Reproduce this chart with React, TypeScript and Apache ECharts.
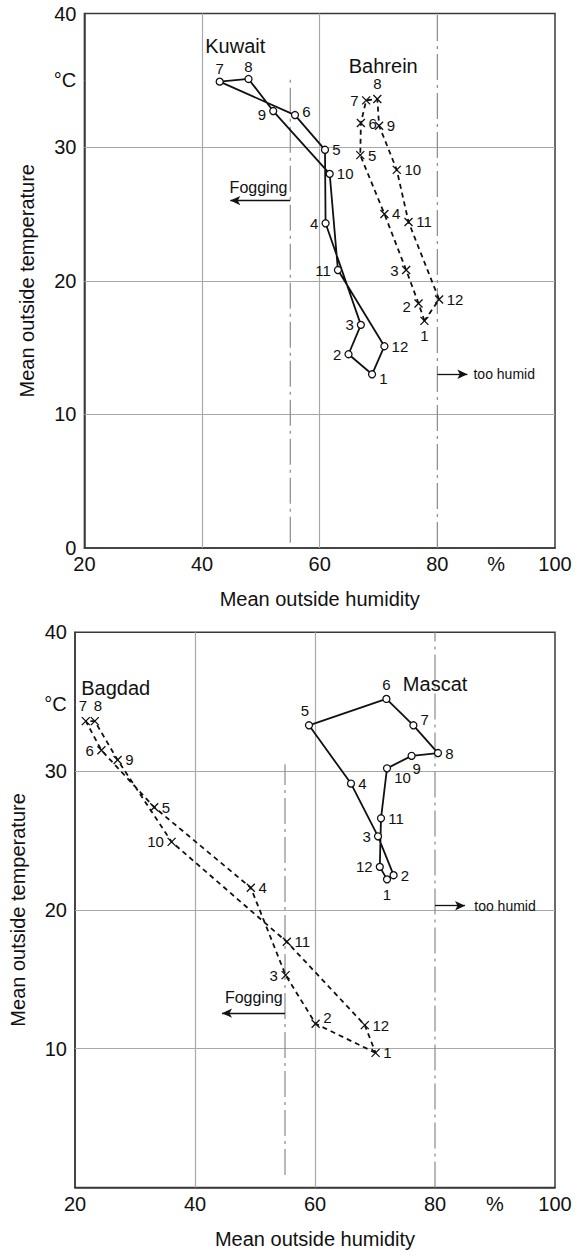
import React, { useEffect, useRef } from "react";
import * as echarts from "echarts";

// ---------- data ----------
const MONTHS = ["1", "2", "3", "4", "5", "6", "7", "8", "9", "10", "11", "12"];
const X_TICK_LABELS = [20, 40, 60, 80, 100];
const Y_TICK_LABELS_TOP = [0, 10, 20, 30, 40];
const Y_TICK_LABELS_BOTTOM = [10, 20, 30, 40];

const kuwaitHum = [68.9, 64.9, 67.0, 61.0, 60.9, 55.8, 43.0, 47.9, 52.1, 61.7, 63.1, 71.0];
const kuwaitTemp = [13.0, 14.5, 16.7, 24.3, 29.8, 32.4, 34.9, 35.1, 32.7, 28.0, 20.8, 15.1];
const bahreinHum = [77.8, 76.8, 74.7, 71.0, 66.9, 67.0, 67.9, 69.8, 70.1, 73.1, 75.1, 80.3];
const bahreinTemp = [17.0, 18.3, 20.8, 25.0, 29.4, 31.8, 33.5, 33.6, 31.6, 28.3, 24.4, 18.6];
const bagdadHum = [70.1, 60.1, 55.1, 49.3, 33.2, 24.4, 21.8, 23.3, 27.1, 36.1, 55.3, 68.3];
const bagdadTemp = [9.7, 11.8, 15.3, 21.6, 27.4, 31.5, 33.6, 33.6, 30.8, 24.9, 17.7, 11.7];
const mascatHum = [72.0, 73.1, 70.5, 66.0, 59.0, 71.9, 76.4, 80.5, 76.1, 72.0, 71.0, 70.8];
const mascatTemp = [22.2, 22.5, 25.3, 29.1, 33.3, 35.2, 33.3, 31.3, 31.1, 30.2, 26.6, 23.1];

const FOGGING_LIMIT = 55;
const HUMID_LIMIT = 80;

// ---------- label placement (style) ----------
const kuwaitPos = ["right", "left", "left", "left", "right", "right", "top", "top", "left", "right", "left", "right"];
const bahreinPos = ["bottom", "left", "left", "right", "right", "right", "left", "top", "right", "right", "right", "right"];
const bagdadPos = ["right", "right", "left", "right", "right", "left", "top", "top", "right", "left", "right", "right"];
const mascatPos = ["bottom", "right", "left", "right", "top", "top", "right", "right", "bottom", "right", "right", "left"];
const kuwaitOff: Record<number, number[]> = { 0: [0, 4], 8: [0, 3], 5: [0, -4], 6: [0, 2], 7: [0, 2] };
const bahreinOff: Record<number, number[]> = { 1: [0, 3] };
const bagdadOff: Record<number, number[]> = { 6: [-3, 0], 7: [3, 0], 1: [0, -6] };
const mascatOff: Record<number, number[]> = { 4: [-4, 0], 6: [0, -6], 8: [5, -2], 9: [0, 9] };

const FONT = "'Liberation Sans', Arial, Helvetica, sans-serif";
const INK = "#111111";
const GRID_GRAY = "#a8a8a8";
const FRAME = "#3a3a3a";

function citySeries(
  g: number,
  hum: number[],
  temp: number[],
  pos: string[],
  off: Record<number, number[]>,
  marker: "circle" | "cross",
  dashed: boolean
) {
  const data: any[] = hum.map((h, i) => ({
    value: [h, temp[i]],
    label: {
      show: true,
      formatter: MONTHS[i],
      position: pos[i],
      offset: off[i] || [0, 0],
      distance: 3,
    },
  }));
  data.push({ value: [hum[0], temp[0]], symbol: "none", label: { show: false } });
  const isCircle = marker === "circle";
  return {
    type: "line",
    xAxisIndex: g,
    yAxisIndex: g,
    data,
    showAllSymbol: true,
    symbol: isCircle ? "circle" : "path://M0,0L10,10M10,0L0,10",
    symbolSize: isCircle ? 7 : 8,
    itemStyle: isCircle
      ? { color: "#fff", borderColor: INK, borderWidth: 1.3 }
      : { color: "rgba(0,0,0,0)", borderColor: INK, borderWidth: 1.3 },
    lineStyle: { color: INK, width: 1.8, type: dashed ? [5, 4] : "solid" },
    label: { color: INK, fontSize: 15, fontFamily: FONT },
    z: 5,
    silent: true,
  };
}

function guideSeries(g: number, yTop: number, yBottom: number) {
  const dashDot = [26, 5, 3, 5];
  return [
    {
      type: "line",
      xAxisIndex: g,
      yAxisIndex: g,
      data: [
        [FOGGING_LIMIT, yBottom],
        [FOGGING_LIMIT, yTop],
      ],
      symbol: "none",
      lineStyle: { color: "#8a8a8a", width: 1.2, type: dashDot },
      z: 2,
      silent: true,
      markLine: {
        silent: true,
        symbol: "none",
        label: { show: false },
        lineStyle: { color: GRID_GRAY, width: 1.2, type: "solid" },
        data: [{ xAxis: 40 }, { xAxis: 60 }, { yAxis: 10 }, { yAxis: 20 }, { yAxis: 30 }],
        z: 1,
      },
    },
    {
      type: "line",
      xAxisIndex: g,
      yAxisIndex: g,
      data: [
        [HUMID_LIMIT, 0],
        [HUMID_LIMIT, 40],
      ],
      symbol: "none",
      lineStyle: { color: "#8a8a8a", width: 1.2, type: dashDot },
      z: 2,
      silent: true,
    },
  ];
}

function arrowSeries(g: number, fog: number[], humid: number[]) {
  return {
    type: "line",
    xAxisIndex: g,
    yAxisIndex: g,
    data: [],
    silent: true,
    markLine: {
      silent: true,
      symbol: ["none", "arrow"],
      symbolSize: [7, 10],
      label: { show: false },
      lineStyle: { color: INK, width: 1.3, type: "solid" },
      data: [
        [{ coord: [FOGGING_LIMIT, fog[1]] }, { coord: [fog[0], fog[1]] }],
        [{ coord: [HUMID_LIMIT, humid[1]] }, { coord: [humid[0], humid[1]] }],
      ],
    },
  };
}

function textSeries(g: number, items: any[]) {
  return {
    type: "scatter",
    xAxisIndex: g,
    yAxisIndex: g,
    symbolSize: 0.5,
    itemStyle: { color: "#ffffff", opacity: 1 },
    silent: true,
    z: 6,
    data: items.map((it) => ({
      value: it.at,
      label: {
        show: true,
        formatter: it.text,
        position: it.pos,
        distance: it.dist ?? 0,
        fontSize: it.size,
        color: INK,
        opacity: 1,
        textBorderWidth: 0,
        fontFamily: FONT,
      },
    })),
  };
}

function axesFor(g: number, showZero: boolean) {
  const x = {
    type: "value",
    gridIndex: g,
    min: 20,
    max: 100,
    interval: 10,
    axisLine: { show: true, lineStyle: { color: FRAME, width: 1.5 } },
    axisTick: { show: false },
    splitLine: { show: false },
    axisLabel: {
      formatter: (v: number) => (v === 90 ? "%" : X_TICK_LABELS.includes(v) ? String(v) : ""),
      fontSize: 20,
      color: INK,
      fontFamily: FONT,
      margin: 6,
    },
    name: "Mean outside humidity",
    nameLocation: "middle",
    nameGap: 41,
    nameTextStyle: { fontSize: 20, color: INK, fontFamily: FONT },
  };
  const yLabels = showZero ? Y_TICK_LABELS_TOP : Y_TICK_LABELS_BOTTOM;
  const y = {
    type: "value",
    gridIndex: g,
    min: 0,
    max: 40,
    interval: 10,
    axisLine: { show: true, lineStyle: { color: FRAME, width: 1.5 } },
    axisTick: { show: false },
    splitLine: { show: false },
    axisLabel: {
      formatter: (v: number) => (yLabels.includes(v) ? String(v) : ""),
      fontSize: 20,
      color: INK,
      fontFamily: FONT,
      margin: 8,
    },
    name: "Mean outside temperature",
    nameLocation: "middle",
    nameGap: 47,
    nameRotate: 90,
    nameTextStyle: { fontSize: 20, color: INK, fontFamily: FONT },
  };
  return { x, y };
}

export default function App() {
  const ref = useRef<HTMLDivElement>(null);
  useEffect(() => {
    if (!ref.current) return;
    const chart = echarts.init(ref.current, undefined, { renderer: "svg" });
    const a0 = axesFor(0, true);
    const a1 = axesFor(1, false);
    const option: any = {
      animation: false,
      backgroundColor: "#fff",
      textStyle: { fontFamily: FONT },
      grid: [
        { left: 84.4, top: 13.5, width: 470.6, height: 534.5, show: true, borderColor: FRAME, borderWidth: 1.5, backgroundColor: "rgba(0,0,0,0)" },
        { left: 69, top: 632.3, width: 486, height: 555.2, show: true, borderColor: FRAME, borderWidth: 1.5, backgroundColor: "rgba(0,0,0,0)" },
      ],
      xAxis: [a0.x, a1.x],
      yAxis: [a0.y, a1.y],
      series: [
        ...guideSeries(0, 35.4, 0.4),
        ...guideSeries(1, 30.5, 0.9),
        arrowSeries(0, [44.8, 26.0], [85.1, 13.0]),
        arrowSeries(1, [44.5, 12.56], [85.0, 20.3]),
        citySeries(0, kuwaitHum, kuwaitTemp, kuwaitPos, kuwaitOff, "circle", false),
        citySeries(0, bahreinHum, bahreinTemp, bahreinPos, bahreinOff, "cross", true),
        citySeries(1, bagdadHum, bagdadTemp, bagdadPos, bagdadOff, "cross", true),
        citySeries(1, mascatHum, mascatTemp, mascatPos, mascatOff, "circle", false),
        textSeries(0, [
          { text: "Kuwait", at: [40.5, 37.6], pos: "right", size: 20 },
          { text: "Bahrein", at: [64.9, 36.1], pos: "right", size: 20 },
          { text: "°C", at: [20, 35.0], pos: "left", size: 20, dist: 8 },
          { text: "Fogging", at: [49.6, 27.0], pos: "inside", size: 16 },
          { text: "too humid", at: [86.1, 13.0], pos: "right", size: 14 },
        ]),
        textSeries(1, [
          { text: "Bagdad", at: [21.0, 36.0], pos: "right", size: 20 },
          { text: "Mascat", at: [74.6, 36.3], pos: "right", size: 20 },
          { text: "°C", at: [20, 34.8], pos: "left", size: 20, dist: 8 },
          { text: "Fogging", at: [49.8, 13.66], pos: "inside", size: 16 },
          { text: "too humid", at: [86.5, 20.3], pos: "right", size: 14 },
        ]),
      ],
    };
    chart.setOption(option);
    return () => chart.dispose();
  }, []);
  return (
    <div
      ref={ref}
      style={{ position: "fixed", left: 0, top: 0, width: 577, height: 1257, background: "#fff" }}
    />
  );
}
